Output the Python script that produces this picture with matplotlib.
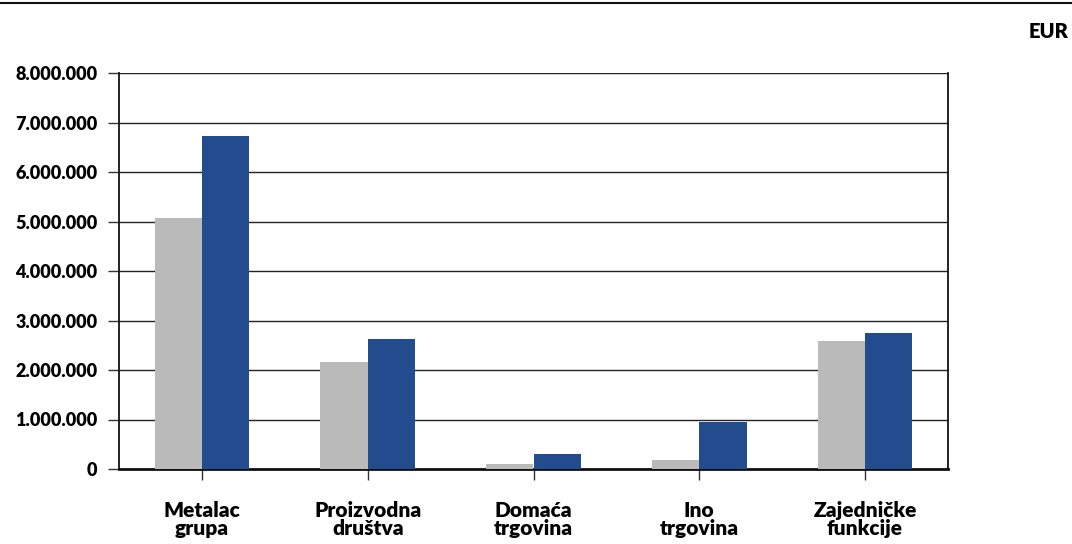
import matplotlib
matplotlib.use('Agg')
import matplotlib.pyplot as plt
import numpy as np

categories = ['Metalac\ngrupa', 'Proizvodna\ndruštva', 'Domaća\ntrgovina', 'Ino\ntrgovina', 'Zajedničke\nfunkcije']
prev_year = [5070000, 2160000, 110000, 180000, 2590000]
curr_year = [6730000, 2630000, 300000, 950000, 2750000]
y_ticks = [0, 1000000, 2000000, 3000000, 4000000, 5000000, 6000000, 7000000, 8000000]
y_labels = ['0', '1.000.000', '2.000.000', '3.000.000', '4.000.000', '5.000.000',
            '6.000.000', '7.000.000', '8.000.000']

GRAY = '#bababa'
BLUE = '#234c8f'
plt.rcParams['font.family'] = ['Lato', 'DejaVu Sans']

fig = plt.figure(figsize=(10.72, 5.44), dpi=100)
ax = fig.add_axes([119 / 1072, 75 / 544, (948 - 119) / 1072, (469 - 73) / 544])

x = np.arange(len(categories))
w = 0.285
ax.bar(x - w / 2, prev_year, w, color=GRAY, zorder=3)
ax.bar(x + w / 2, curr_year, w, color=BLUE, zorder=3)

ax.set_xlim(-0.5, len(categories) - 0.5)
ax.set_ylim(0, 8000000)
ax.set_yticks(y_ticks)
ax.set_yticklabels(y_labels, fontsize=13, fontweight='heavy')
ax.set_xticks(x)
ax.set_xticklabels(categories, fontsize=15, fontweight='heavy', linespacing=0.95)
ax.tick_params(axis='y', length=8, width=1, pad=7.5, color='#333')
ax.tick_params(axis='x', length=8, width=1, pad=15, color='#333')
ax.yaxis.grid(True, color='#222', lw=1, zorder=1)
ax.set_axisbelow(True)
for s in ['left', 'right']:
    ax.spines[s].set_color('#111')
    ax.spines[s].set_linewidth(1.3)
ax.spines['bottom'].set_linewidth(2)
ax.spines['bottom'].set_color('#111')
ax.spines['top'].set_visible(False)

fig.add_artist(plt.Line2D([0, 1], [1 - 3 / 544, 1 - 3 / 544], color='#111', lw=1.5))
fig.text(1068 / 1072, 1 - 32 / 544, 'EUR', ha='right', va='center', fontsize=14.5, fontweight='heavy')

fig.savefig('out.png', dpi=100)
